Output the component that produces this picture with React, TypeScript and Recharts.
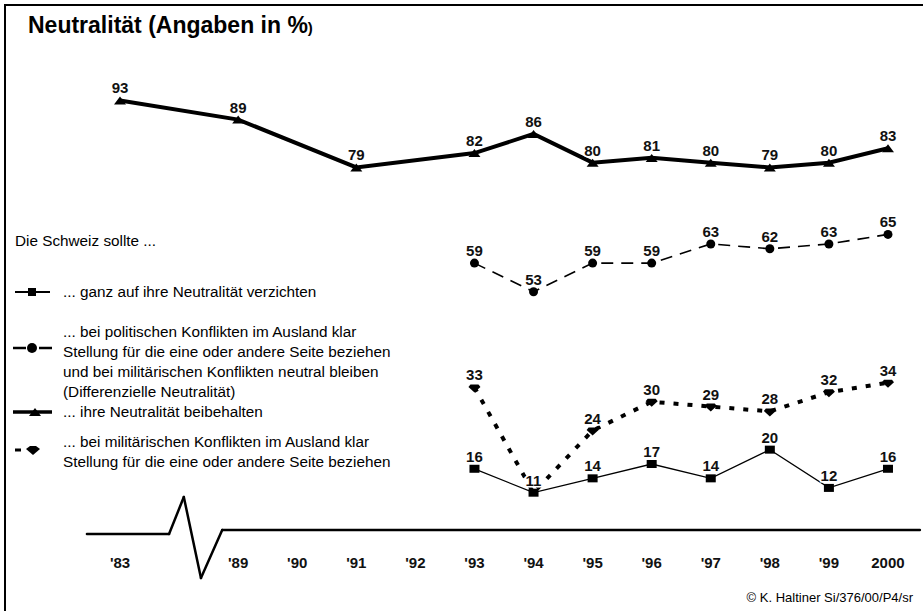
import { LineChart, Line, XAxis, YAxis, LabelList, ReferenceLine } from "recharts";

const FONT = '"Liberation Sans", Arial, sans-serif';

// x-Achse: leerer Platz zwischen '83 und '89 = Achsenbruch
const CATEGORIES = ["'83", "", "'89", "'90", "'91", "'92", "'93", "'94", "'95", "'96", "'97", "'98", "'99", "2000"];

const BEIBEHALTEN = [93, null, 89, null, 79, null, 82, 86, 80, 81, 80, 79, 80, 83];
const DIFFERENZIELL = [null, null, null, null, null, null, 59, 53, 59, 59, 63, 62, 63, 65];
const MILITAERISCH = [null, null, null, null, null, null, 33, 11, 24, 30, 29, 28, 32, 34];
const VERZICHTEN = [null, null, null, null, null, null, 16, 11, 14, 17, 14, 20, 12, 16];

// Achsenlinie mit Bruch-Zacke (x = Kategorie-Index, y = Wert)
const AXIS_BREAK = [
  [-0.56, 2.35],
  [0.83, 2.35],
  [1.08, 10.1],
  [1.37, -6.85],
  [1.73, 3.2],
  [13.54, 3.2],
];

const LEGEND_ITEMS = [
  { icon: "square", lines: ["... ganz auf ihre Neutralität verzichten"] },
  {
    icon: "circle",
    lines: [
      "... bei politischen Konflikten im Ausland klar",
      "Stellung für die eine oder andere Seite beziehen",
      "und bei militärischen Konflikten neutral bleiben",
      "(Differenzielle Neutralität)",
    ],
  },
  { icon: "triangle", lines: ["... ihre Neutralität beibehalten"] },
  {
    icon: "diamond",
    lines: [
      "... bei militärischen Konflikten im Ausland klar",
      "Stellung für die eine oder andere Seite beziehen",
    ],
  },
];

const rows = CATEGORIES.map((label, i) => ({
  i,
  label,
  beibehalten: BEIBEHALTEN[i],
  differenziell: DIFFERENZIELL[i],
  militaerisch: MILITAERISCH[i],
  verzichten: VERZICHTEN[i],
}));

const ticks = CATEGORIES.map((c, i) => (c ? i : -1)).filter((i) => i >= 0);

const Triangle = (p: any) => {
  if (p.cy == null || p.value == null) return null;
  const { cx, cy } = p;
  return <path key={p.index} d={`M${cx},${cy - 4} L${cx + 6},${cy + 4} L${cx - 6},${cy + 4} Z`} fill="#000" />;
};
const Circle = (p: any) => {
  if (p.cy == null || p.value == null) return null;
  return <circle key={p.index} cx={p.cx} cy={p.cy} r={4.5} fill="#000" />;
};
const Square = (p: any) => {
  if (p.cy == null || p.value == null) return null;
  return <rect key={p.index} x={p.cx - 5} y={p.cy - 4} width={10} height={8} fill="#000" />;
};
const Diamond = (p: any) => {
  if (p.cy == null || p.value == null) return null;
  // gleicher Wert wie "verzichten" -> Symbol liegt unter dem Quadrat
  if (MILITAERISCH[p.index] === VERZICHTEN[p.index]) return null;
  const { cx, cy } = p;
  return (
    <path
      key={p.index}
      d={`M${cx - 4},${cy - 3} L${cx + 4},${cy - 3} L${cx + 6},${cy - 0.5} L${cx},${cy + 5} L${cx - 6},${cy - 0.5} Z`}
      fill="#000"
    />
  );
};

const makeLabel = (skip?: (i: number) => boolean) => (p: any) => {
  if (p.value == null) return null;
  if (skip && skip(p.index)) return null;
  return (
    <text
      x={p.x}
      y={p.y - 7}
      textAnchor="middle"
      fontFamily={FONT}
      fontWeight="bold"
      fontSize={15}
      fill="#111"
      stroke="#fff"
      strokeWidth={3}
      paintOrder="stroke"
    >
      {p.value}
    </text>
  );
};

const LegendIcon = ({ type }: { type: string }) => (
  <svg width={42} height={16} style={{ display: "block" }}>
    {type === "square" && (
      <>
        <line x1={2} x2={37} y1={8} y2={8} stroke="#000" strokeWidth={2} />
        <rect x={15} y={4} width={8} height={8} fill="#000" />
      </>
    )}
    {type === "circle" && (
      <>
        <line x1={0} x2={13} y1={8} y2={8} stroke="#000" strokeWidth={2.5} />
        <circle cx={19} cy={8} r={5} fill="#000" />
        <line x1={26} x2={39} y1={8} y2={8} stroke="#000" strokeWidth={2.5} />
      </>
    )}
    {type === "triangle" && (
      <>
        <line x1={0} x2={39} y1={8} y2={8} stroke="#000" strokeWidth={3.5} />
        <path d="M22,4 L28,12 L16,12 Z" fill="#000" />
      </>
    )}
    {type === "diamond" && (
      <>
        <line x1={2} x2={8} y1={8} y2={8} stroke="#000" strokeWidth={3} />
        <path d="M17,4 L23,4 L27,7 L20,13 L13,7 Z" fill="#000" />
      </>
    )}
  </svg>
);

// Zeilen-Mitte (y) für Legenden-Icons und Textblöcke
const LEGEND_POS = [
  { icon: 292, text: 282 },
  { icon: 348, text: 322 },
  { icon: 412, text: 402 },
  { icon: 450, text: 432 },
];

export default function App() {
  return (
    <div
      style={{
        position: "absolute",
        left: 0,
        top: 0,
        width: 923,
        height: 611,
        background: "#fff",
        fontFamily: FONT,
        color: "#000",
        overflow: "hidden",
      }}
    >
      {/* Rahmen oben/links */}
      <div
        style={{
          position: "absolute",
          left: 4,
          top: 4,
          width: 930,
          height: 620,
          borderTop: "2px solid #000",
          borderLeft: "2px solid #000",
        }}
      />

      <div style={{ position: "absolute", left: 28, top: 12, fontSize: 23, fontWeight: "bold", whiteSpace: "nowrap" }}>
        Neutralität (Angaben in %<span style={{ fontSize: 15 }}>)</span>
      </div>

      <div style={{ position: "absolute", left: 0, top: 0 }}>
        <LineChart width={923} height={611} data={rows} margin={{ top: 67, right: 3, bottom: 51, left: 88 }}>
          <XAxis
            dataKey="i"
            type="number"
            domain={[-0.542, 13.542]}
            ticks={ticks}
            tickFormatter={(v: number) => CATEGORIES[v]}
            axisLine={false}
            tickLine={false}
            tickSize={0}
            tickMargin={27}
            height={30}
            tick={{ fontFamily: FONT, fontWeight: "bold", fontSize: 15, fill: "#111" }}
            interval={0}
          />
          <YAxis hide domain={[3.2, 100]} />

          {AXIS_BREAK.slice(1).map((pt, k) => (
            <ReferenceLine
              key={k}
              segment={[
                { x: AXIS_BREAK[k][0], y: AXIS_BREAK[k][1] },
                { x: pt[0], y: pt[1] },
              ]}
              stroke="#000"
              strokeWidth={2.5}
              strokeLinecap="round"
              ifOverflow="visible"
            />
          ))}

          <Line
            dataKey="beibehalten"
            stroke="#000"
            strokeWidth={4}
            connectNulls
            dot={Triangle}
            activeDot={false}
            isAnimationActive={false}
          >
            <LabelList dataKey="beibehalten" content={makeLabel()} />
          </Line>
          <Line
            dataKey="differenziell"
            stroke="#000"
            strokeWidth={1.6}
            strokeDasharray="12 8"
            connectNulls
            dot={Circle}
            activeDot={false}
            isAnimationActive={false}
          >
            <LabelList dataKey="differenziell" content={makeLabel()} />
          </Line>
          <Line
            dataKey="militaerisch"
            stroke="#000"
            strokeWidth={4}
            strokeDasharray="5 9"
            connectNulls
            dot={Diamond}
            activeDot={false}
            isAnimationActive={false}
          >
            <LabelList
              dataKey="militaerisch"
              content={makeLabel((i) => MILITAERISCH[i] === VERZICHTEN[i])}
            />
          </Line>
          <Line
            dataKey="verzichten"
            stroke="#000"
            strokeWidth={1.3}
            connectNulls
            dot={Square}
            activeDot={false}
            isAnimationActive={false}
          >
            <LabelList dataKey="verzichten" content={makeLabel()} />
          </Line>
        </LineChart>
      </div>

      <div style={{ position: "absolute", left: 15, top: 231, fontSize: 15.3, lineHeight: "20px", whiteSpace: "nowrap" }}>
        Die Schweiz sollte ...
      </div>

      {LEGEND_ITEMS.map((item, k) => (
        <div key={k}>
          <div style={{ position: "absolute", left: 13, top: LEGEND_POS[k].icon - 8 }}>
            <LegendIcon type={item.icon} />
          </div>
          <div
            style={{
              position: "absolute",
              left: 63,
              top: LEGEND_POS[k].text,
              fontSize: 15.3,
              lineHeight: "20px",
              whiteSpace: "nowrap",
            }}
          >
            {item.lines.map((l, j) => (
              <div key={j}>{l}</div>
            ))}
          </div>
        </div>
      ))}

      <div style={{ position: "absolute", right: 10, top: 590, fontSize: 13, whiteSpace: "nowrap" }}>
        © K. Haltiner Si/376/00/P4/sr
      </div>
    </div>
  );
}
